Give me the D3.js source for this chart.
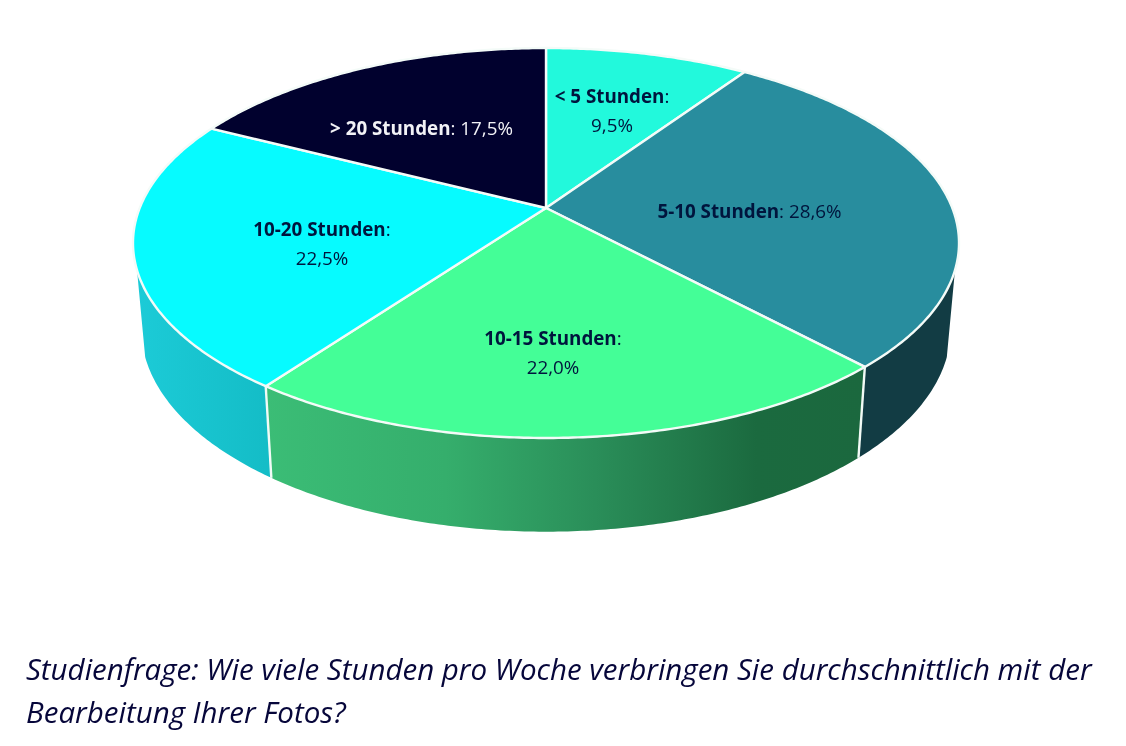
<!DOCTYPE html>
<html><head><meta charset="utf-8">
<script src="https://cdn.jsdelivr.net/npm/d3@7"></script>
<style>html,body{margin:0;padding:0;background:#fff}svg{display:block;filter:blur(0.45px)}</style>
</head><body><svg id="c" width="1126" height="746"></svg>
<script>
const categories = ["< 5 Stunden", "5-10 Stunden", "10-15 Stunden", "10-20 Stunden", "> 20 Stunden"];
const values = [9.5, 28.6, 22.0, 22.5, 17.5];
const valueLabels = ["9,5%", "28,6%", "22,0%", "22,5%", "17,5%"];
const topColors = ["#22f9dc", "#288d9e", "#44fe97", "#06fbff", "#01012e"];
const sideStops = [[], [[0,"#123c44"],[1,"#123c44"]], [[0,"#3bbd76"],[0.3,"#35ae6c"],[0.55,"#2a8e59"],[0.82,"#1b6a3f"],[1,"#1b683e"]], [[0,"#1ccbd7"],[1,"#14bdc7"]], []];
const captionLines = ["Studienfrage: Wie viele Stunden pro Woche verbringen Sie durchschnittlich mit der", "Bearbeitung Ihrer Fotos?"];

// layout
const C = {x:546, y:208, A:406.3, B:188.7, k:0.1795};
const base = {y:292.5, sx:0.98, sy:1.04};
const sideVisible = [108.1*Math.PI/180, 251.9*Math.PI/180];
// label placement: [x, first baseline, two-line?]
const labelPos = [[612,102.5,true],[749.5,217.5,false],[553,344.5,true],[322,235.5,true],[421.5,134.5,false]];
const lineGap = 29;

function proj(a){
  const u=Math.sin(a), v=-Math.cos(a), w=1-C.k*v;
  return [C.A*u/w, C.B*v/w];
}
const topPt = a=>{const p=proj(a);return [C.x+p[0],C.y+p[1]];};
const botPt = a=>{const p=proj(a);return [C.x+base.sx*p[0],base.y+base.sy*p[1]];};
const line = d3.line();
const range = (a0,a1)=>{const n=Math.max(2,Math.ceil((a1-a0)/0.01));return d3.range(n+1).map(i=>a0+(a1-a0)*i/n);};

const svg = d3.select("#c");
const arcs = d3.pie().sort(null).value(d=>d)(values);
const defs = svg.append("defs");

// side walls
arcs.forEach((d,i)=>{
  const a0=Math.max(d.startAngle,sideVisible[0]), a1=Math.min(d.endAngle,sideVisible[1]);
  if(a1<=a0) return;
  const xs=[topPt(a0)[0],topPt(a1)[0]];
  const g=defs.append("linearGradient").attr("id","side"+i).attr("gradientUnits","userSpaceOnUse")
    .attr("x1",Math.min(...xs)).attr("x2",Math.max(...xs)).attr("y1",0).attr("y2",0);
  sideStops[i].forEach(s=>g.append("stop").attr("offset",s[0]).attr("stop-color",s[1]));
  const pts=range(a0,a1).map(topPt).concat(range(a0,a1).reverse().map(botPt));
  svg.append("path").attr("d",line(pts)+"Z").attr("fill",`url(#side${i})`);
});
// seams on the wall
arcs.forEach(d=>{
  if(d.endAngle>sideVisible[0]&&d.endAngle<sideVisible[1]){
    svg.append("path").attr("d",line([topPt(d.endAngle),botPt(d.endAngle)]))
      .attr("stroke","#f2fbf6").attr("stroke-width",2.4).attr("fill","none");
  }
});
// top face
arcs.forEach((d,i)=>{
  const pts=[[C.x,C.y]].concat(range(d.startAngle,d.endAngle).map(topPt));
  svg.append("path").attr("d",line(pts)+"Z").attr("fill",topColors[i])
    .attr("stroke","#f4fbf8").attr("stroke-width",2.4).attr("stroke-linejoin","round");
});
// labels
const labelSize = 18.8;
arcs.forEach((d,i)=>{
  const [x,y,two]=labelPos[i];
  const fill=i===4?"#f2f2f6":"#00153d";
  const t=svg.append("text").attr("text-anchor","middle").attr("x",x).attr("y",y)
    .attr("font-family","'Open Sans'").attr("font-size",labelSize).attr("fill",fill);
  t.append("tspan").attr("font-weight",700).text(categories[i]);
  t.append("tspan").text(":"+(two?"":" "+valueLabels[i]));
  if(two) svg.append("text").attr("text-anchor","middle").attr("x",x).attr("y",y+lineGap)
    .attr("font-family","'Open Sans'").attr("font-size",labelSize).attr("fill",fill).text(valueLabels[i]);
});
// caption
svg.selectAll("text.cap").data(captionLines).join("text").attr("class","cap")
  .attr("x",26).attr("y",(d,i)=>679.5+i*43)
  .attr("font-family","'Open Sans'").attr("font-style","italic").attr("font-size",29.5)
  .attr("fill","#06063a").text(d=>d);
</script></body></html>
